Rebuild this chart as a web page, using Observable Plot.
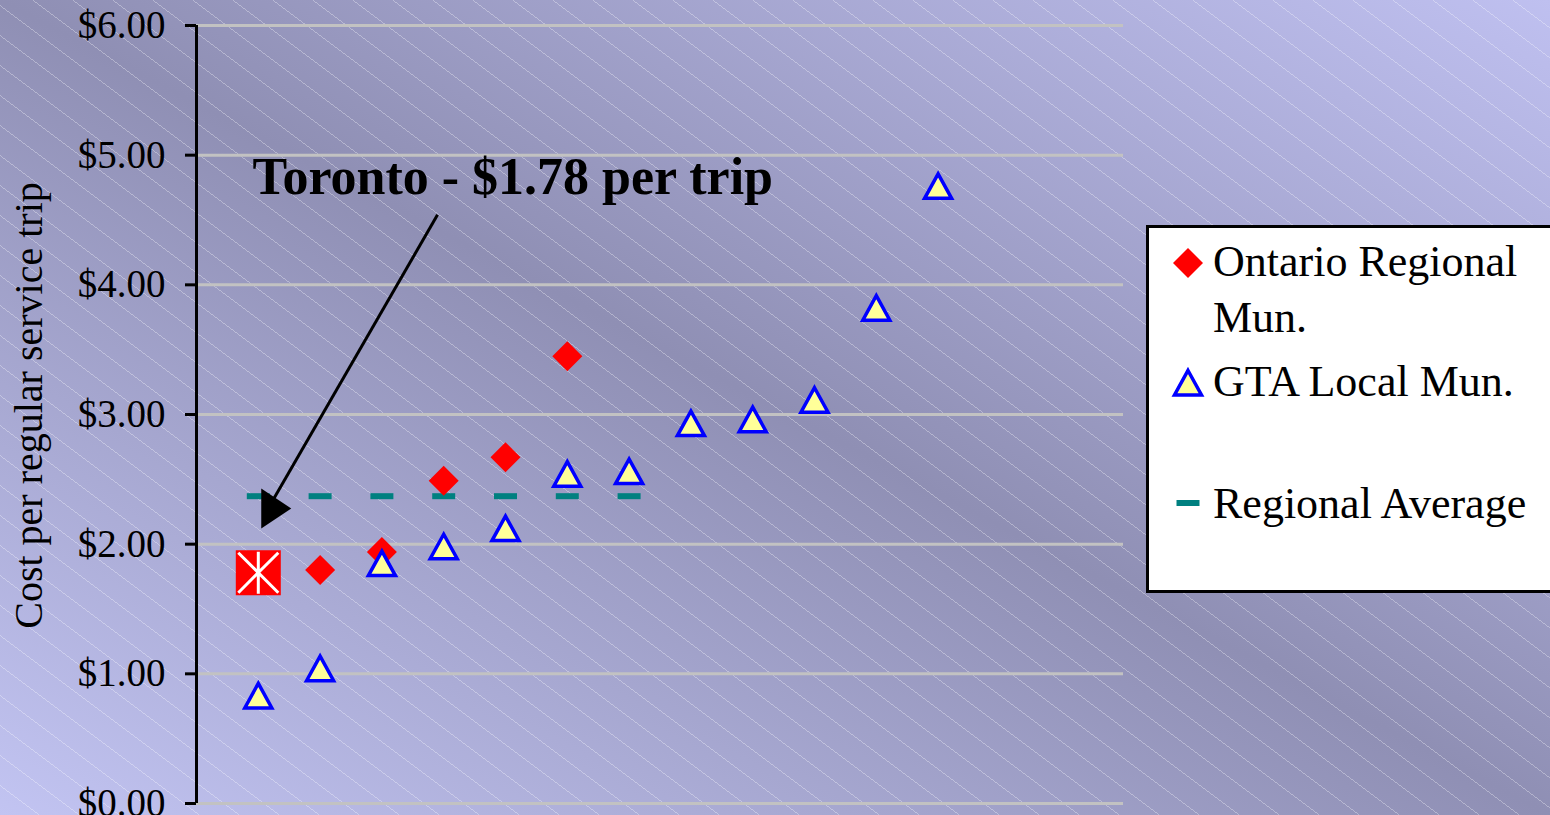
<!DOCTYPE html>
<html>
<head>
<meta charset="utf-8">
<script src="https://cdn.jsdelivr.net/npm/d3@7"></script>
<script src="https://cdn.jsdelivr.net/npm/@observablehq/plot@0.6"></script>
<style>
  html, body { margin: 0; padding: 0; }
  #stage {
    position: relative;
    width: 1550px;
    height: 815px;
    overflow: hidden;
    font-family: "Liberation Serif", "Times New Roman", serif;
    background:
      repeating-linear-gradient(36.87deg, rgba(255,255,255,0) 0px, rgba(255,255,255,0) 23.2px, rgba(255,255,255,0.32) 23.2px, rgba(255,255,255,0.32) 24px),
      linear-gradient(to top right, #c2c4f2 0%, #8f8fb4 50%, #bfc0f0 100%);
  }
  #stage svg { position: absolute; left: 0; top: 0; }
</style>
</head>
<body>
<div id="stage"></div>
<script>
// Cost per regular service trip, by municipality (ranked position on x)
const torontoX = [1];
const torontoCost = [1.78];

const regionalX = [2, 3, 4, 5, 6];
const regionalCost = [1.80, 1.94, 2.49, 2.67, 3.45];

const gtaX = [1, 2, 3, 4, 5, 6, 7, 8, 9, 10, 11, 12];
const gtaCost = [0.83, 1.04, 1.85, 1.98, 2.12, 2.54, 2.56, 2.93, 2.96, 3.11, 3.82, 4.76];

const averageX = [1, 2, 3, 4, 5, 6, 7];
const regionalAverage = 2.37;

const yTicks = [0, 1, 2, 3, 4, 5, 6];
const yTitle = "Cost per regular service trip";
const calloutText = "Toronto - $1.78 per trip";
const legendLabels = ["Ontario Regional", "Mun.", "GTA Local Mun.", "Regional Average"];

// Callout placement in data units
const calloutAt = {x: 0.906, cost: 4.83};
const arrowFrom = {x: 3.90, cost: 4.54};
const arrowTo = {x: 1.25, cost: 2.35};
const arrowHeadAt = {x: 1.29, cost: 2.275};

const serif = "Liberation Serif, Times New Roman, serif";

// Custom marker shapes
const diamond = {draw(c) { c.moveTo(0, -15); c.lineTo(15, 0); c.lineTo(0, 15); c.lineTo(-15, 0); c.closePath(); }};
const triangle = {draw(c) { c.moveTo(0, -12.5); c.lineTo(13.5, 12); c.lineTo(-13.5, 12); c.closePath(); }};
const square = {draw(c) { c.rect(-22.5, -22.5, 45, 45); }};
const star = {draw(c) {
  c.moveTo(-20, -20); c.lineTo(20, 20);
  c.moveTo(20, -20); c.lineTo(-20, 20);
  c.moveTo(0, -21); c.lineTo(0, 21);
}};
const dash = {draw(c) { c.rect(-11.5, -3, 23, 6); }};
const arrowHead = {draw(c) { c.moveTo(-15, -20); c.lineTo(15, 0); c.lineTo(-15, 20); c.closePath(); }};

const regional = regionalX.map((x, i) => ({x, cost: regionalCost[i]}));
const gta = gtaX.map((x, i) => ({x, cost: gtaCost[i]}));
const toronto = torontoX.map((x, i) => ({x, cost: torontoCost[i]}));
const average = averageX.map(x => ({x, cost: regionalAverage}));

const chart = Plot.plot({
  width: 1550,
  height: 815,
  marginLeft: 196,
  marginRight: 427,
  marginTop: 25,
  marginBottom: 12,
  style: {background: "transparent", fontFamily: serif, color: "black", overflow: "visible"},
  x: {domain: [0, 15], axis: null},
  y: {domain: [0, 6], axis: null},
  marks: [
    Plot.gridY(yTicks, {stroke: "#c2c2c2", strokeOpacity: 1, strokeWidth: 3}),
    Plot.ruleX([0], {y1: 0, y2: 6, stroke: "black", strokeWidth: 3}),
    Plot.axisY({
      ticks: yTicks,
      tickFormat: d => "$" + d.toFixed(2),
      tickSize: 11,
      tickPadding: 20,
      strokeWidth: 3,
      fontSize: 39,
      fontFamily: serif,
      fill: "black",
      stroke: "black",
      label: null
    }),
    Plot.text([yTitle], {
      frameAnchor: "left", dx: -167, dy: -9, rotate: -90,
      textAnchor: "middle", fontSize: 40, fontFamily: serif, fill: "black"
    }),
    Plot.dot(average, {x: "x", y: "cost", symbol: dash, fill: "#008080", stroke: "none"}),
    Plot.dot(regional, {x: "x", y: "cost", symbol: diamond, fill: "#ff0000", stroke: "none"}),
    Plot.dot(gta, {x: "x", y: "cost", symbol: triangle, fill: "#ffff99", stroke: "#0000ff", strokeWidth: 3.5}),
    Plot.dot(toronto, {x: "x", y: "cost", symbol: square, fill: "#ff0000", stroke: "none"}),
    Plot.dot(toronto, {x: "x", y: "cost", symbol: star, fill: "none", stroke: "white", strokeWidth: 3}),
    Plot.link([{}], {
      x1: () => arrowFrom.x, y1: () => arrowFrom.cost,
      x2: () => arrowTo.x, y2: () => arrowTo.cost,
      stroke: "black", strokeWidth: 3
    }),
    Plot.dot([arrowHeadAt], {x: "x", y: "cost", symbol: arrowHead, fill: "black", stroke: "none"}),
    Plot.text([calloutText], {
      x: () => calloutAt.x, y: () => calloutAt.cost,
      textAnchor: "start", fontSize: 52, fontWeight: "bold", fontFamily: serif, fill: "black"
    })
  ]
});

const stage = document.getElementById("stage");
stage.appendChild(chart);

// Legend box on the right
const legend = d3.create("svg")
  .attr("width", 1550).attr("height", 815)
  .style("font-family", serif);

legend.append("rect")
  .attr("x", 1147.5).attr("y", 226.5)
  .attr("width", 420).attr("height", 365)
  .attr("fill", "white").attr("stroke", "black").attr("stroke-width", 3);

const symbolPath = s => { const p = d3.path(); s.draw(p); return p.toString(); };
legend.append("path").attr("transform", "translate(1188,263)").attr("d", symbolPath(diamond)).attr("fill", "#ff0000");
legend.append("path").attr("transform", "translate(1188,383)").attr("d", symbolPath(triangle))
  .attr("fill", "#ffff99").attr("stroke", "#0000ff").attr("stroke-width", 3.5);
legend.append("path").attr("transform", "translate(1188,503)").attr("d", symbolPath(dash)).attr("fill", "#008080");

const baselines = [276, 332, 396, 518];
legend.selectAll("text.lbl").data(legendLabels).join("text")
  .attr("class", "lbl")
  .attr("x", 1213)
  .attr("y", (d, i) => baselines[i])
  .attr("font-size", 44)
  .attr("fill", "black")
  .text(d => d);

stage.appendChild(legend.node());
</script>
</body>
</html>
